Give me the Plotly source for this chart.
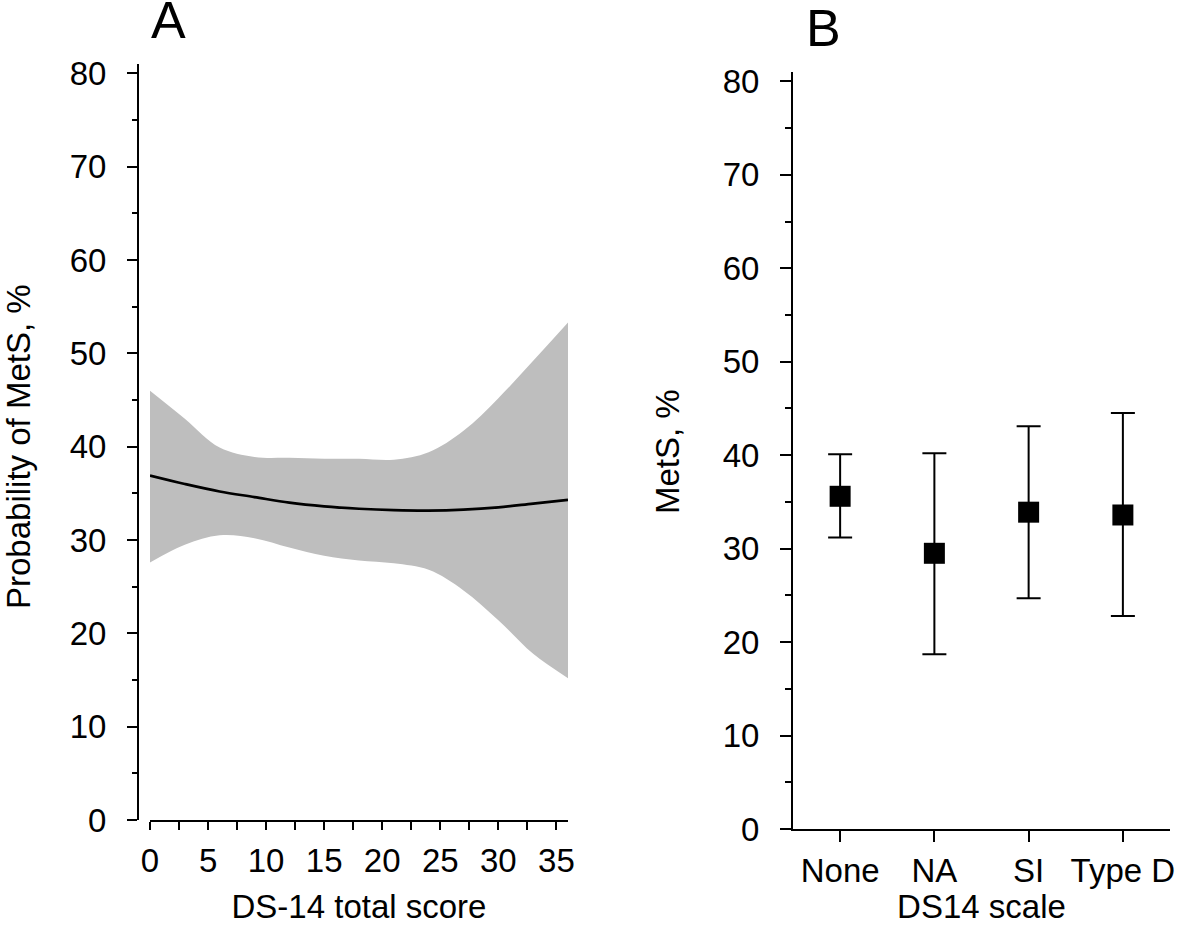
import plotly.graph_objects as go

# Panel A: restricted cubic spline fit with 95% CI
score = [0, 3, 6, 9, 12, 15, 18, 21, 24, 27, 30, 33, 36]
prob_fit = [36.9, 36.0, 35.2, 34.6, 34.0, 33.6, 33.35, 33.2, 33.15, 33.25, 33.5, 33.9, 34.3]
prob_upper = [46.0, 43.0, 39.9, 38.9, 38.8, 38.7, 38.7, 38.6, 39.4, 41.7, 45.2, 49.2, 53.3]
prob_lower = [27.6, 29.5, 30.5, 30.2, 29.2, 28.3, 27.8, 27.5, 26.8, 24.6, 21.4, 17.8, 15.2]

# Panel B: MetS prevalence by DS14 category
categories = ["None", "NA", "SI", "Type D"]
mets_pct = [35.6, 29.5, 33.9, 33.6]
ci_high = [40.1, 40.2, 43.1, 44.5]
ci_low = [31.2, 18.7, 24.7, 22.8]

x_ticks_a = [0, 5, 10, 15, 20, 25, 30, 35]
y_ticks = [0, 10, 20, 30, 40, 50, 60, 70, 80]

W, H = 1181, 925
FONT = "Liberation Sans, Arial, sans-serif"


def px_x(p):
    return p / W


def px_y(p):
    return 1 - p / H


fig = go.Figure()

# CI band
fig.add_trace(go.Scatter(x=score, y=prob_upper, mode="lines", line=dict(width=0, shape="spline", color="#BEBEBE"),
                         showlegend=False, hoverinfo="skip", xaxis="x", yaxis="y"))
fig.add_trace(go.Scatter(x=score, y=prob_lower, mode="lines", line=dict(width=0, shape="spline", color="#BEBEBE"),
                         fill="tonexty", fillcolor="#BEBEBE", showlegend=False, hoverinfo="skip",
                         xaxis="x", yaxis="y"))
fig.add_trace(go.Scatter(x=score, y=prob_fit, mode="lines", line=dict(color="black", width=2.7, shape="spline"),
                         showlegend=False, xaxis="x", yaxis="y"))

err_plus = [h - m for h, m in zip(ci_high, mets_pct)]
err_minus = [m - l for m, l in zip(mets_pct, ci_low)]
fig.add_trace(go.Scatter(x=categories, y=mets_pct, mode="markers",
                         marker=dict(symbol="square", size=21, color="black"),
                         error_y=dict(type="data", array=err_plus, arrayminus=err_minus,
                                      color="black", thickness=2, width=12),
                         showlegend=False, xaxis="x2", yaxis="y2"))

tickfont = dict(family=FONT, size=33, color="black")
titlefont = dict(family=FONT, size=33, color="black")

fig.update_layout(
    template="none",
    width=W, height=H,
    margin=dict(l=0, r=0, t=0, b=0, pad=0),
    paper_bgcolor="white", plot_bgcolor="white",
    xaxis=dict(domain=[px_x(150), px_x(568)], range=[0, 36], anchor="y", automargin=False,
               tickvals=x_ticks_a, ticks="outside", ticklen=8, tickwidth=2, tickcolor="black",
               minor=dict(dtick=2.5, tick0=0, ticks="outside", ticklen=8, tickwidth=2, tickcolor="black"),
               showline=True, linewidth=2, linecolor="black", showgrid=False, zeroline=False,
               tickfont=tickfont, ticklabelstandoff=2,
               title=dict(text="DS-14 total score", font=titlefont, standoff=26)),
    yaxis=dict(domain=[px_y(820), px_y(64)], range=[0, 81], anchor="free", position=px_x(138),
               automargin=False,
               tickvals=y_ticks, ticks="outside", ticklen=10, tickwidth=2, tickcolor="black",
               minor=dict(dtick=5, tick0=0, ticks="outside", ticklen=5, tickwidth=2, tickcolor="black"),
               showline=True, linewidth=2, linecolor="black", showgrid=False, zeroline=False,
               tickfont=tickfont, ticklabelstandoff=14),
    xaxis2=dict(domain=[px_x(793), px_x(1170)], type="category", range=[-0.5, 3.5], anchor="y2",
                automargin=False,
                ticks="outside", ticklen=11, tickwidth=2, tickcolor="black",
                showline=True, linewidth=2, linecolor="black", showgrid=False, zeroline=False,
                tickfont=tickfont, ticklabelstandoff=0,
                title=dict(text="DS14 scale", font=titlefont, standoff=22)),
    yaxis2=dict(domain=[px_y(829), px_y(72)], range=[0, 81], anchor="x2", automargin=False,
                tickvals=y_ticks, ticks="outside", ticklen=11, tickwidth=2, tickcolor="black",
                minor=dict(dtick=5, tick0=0, ticks="outside", ticklen=6, tickwidth=2, tickcolor="black"),
                showline=True, linewidth=2, linecolor="black", showgrid=False, zeroline=False,
                tickfont=tickfont, ticklabelstandoff=14),
    annotations=[
        dict(text="A", x=px_x(168), y=px_y(20), xref="paper", yref="paper", showarrow=False,
             font=dict(family=FONT, size=52, color="black"), xanchor="center", yanchor="middle"),
        dict(text="B", x=px_x(823), y=px_y(28), xref="paper", yref="paper", showarrow=False,
             font=dict(family=FONT, size=52, color="black"), xanchor="center", yanchor="middle"),
        dict(text="Probability of MetS, %", x=px_x(19), y=px_y(447), xref="paper", yref="paper",
             showarrow=False, textangle=-90, font=titlefont, xanchor="center", yanchor="middle"),
        dict(text="MetS, %", x=px_x(667), y=px_y(452), xref="paper", yref="paper",
             showarrow=False, textangle=-90, font=titlefont, xanchor="center", yanchor="middle"),
    ],
)

fig.write_html("out.html",
               config={"displayModeBar": False},
               post_script="document.body.style.margin='0';document.body.style.padding='0';"
                           "document.documentElement.style.overflow='hidden';"
                           "document.body.style.overflow='hidden';")
